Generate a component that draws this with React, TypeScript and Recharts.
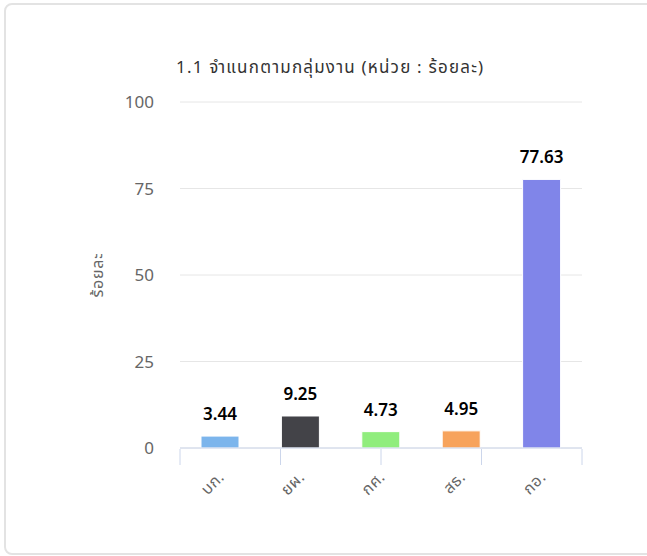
import { BarChart, Bar, XAxis, YAxis, CartesianGrid, Cell, LabelList } from "recharts";

// กลุ่มงาน
const categories = ["บก.", "ยผ.", "กศ.", "สธ.", "กอ."];
const percents = [3.44, 9.25, 4.73, 4.95, 77.63];
const barColors = ["#7cb5ec", "#434348", "#90ed7d", "#f7a35c", "#8085e9"];
const yTicks = [0, 25, 50, 75, 100];
const bandEdges = [0, 1, 2, 3, 4, 5];

const FONT = "'Noto Sans', 'Noto Sans Thai', 'Open Sans', sans-serif";

const data = categories.map((name, i) => ({ name, value: percents[i] }));

function CategoryTick(props: any) {
  const { x, y, payload } = props;
  const tx = x + 5;
  const ty = y + 22;
  return (
    <text
      x={tx}
      y={ty}
      transform={`rotate(-45, ${tx}, ${ty})`}
      textAnchor="end"
      fill="#666666"
      fontSize={16}
      letterSpacing={0.5}
      fontFamily={FONT}
    >
      {payload.value}
    </text>
  );
}

// เส้นแบ่งช่วงหมวดหมู่ ไม่มีข้อความ
function EmptyTick() {
  return <g />;
}

function YTitle(props: any) {
  const { viewBox } = props;
  const cx = 97;
  const cy = viewBox.y + viewBox.height / 2;
  return (
    <text
      x={cx}
      y={cy}
      transform={`rotate(-90, ${cx}, ${cy})`}
      textAnchor="middle"
      dominantBaseline="central"
      fill="#666666"
      fontSize={16}
      letterSpacing={0.8}
      fontFamily={FONT}
    >
      ร้อยละ
    </text>
  );
}

export default function App() {
  return (
    <div style={{ position: "absolute", left: 0, top: 0, width: 647, height: 556, overflow: "hidden", background: "#fff" }}>
      <div
        style={{
          position: "absolute",
          left: 4,
          top: 3,
          width: 680,
          height: 552,
          boxSizing: "border-box",
          border: "2px solid #e3e3e3",
          borderRadius: 8,
        }}
      />
      <div
        style={{
          position: "absolute",
          left: 176,
          top: 55,
          fontSize: 17,
          letterSpacing: 1.2,
          color: "#333333",
          fontFamily: FONT,
          whiteSpace: "nowrap",
          lineHeight: "24px",
        }}
      >
        1.1 จำแนกตามกลุ่มงาน (หน่วย : ร้อยละ)
      </div>
      <div style={{ position: "absolute", left: 0, top: 0 }}>
        <BarChart
          width={647}
          height={556}
          data={data}
          margin={{ top: 102, right: 65, bottom: 106, left: 0 }}
          barSize={38}
        >
          <CartesianGrid horizontal vertical={false} stroke="#e6e6e6" />
          <XAxis
            dataKey="name"
            height={1}
            axisLine={{ stroke: "#ccd6eb" }}
            tickLine={false}
            tick={<CategoryTick />}
            interval={0}
          />
          <XAxis
            xAxisId="edges"
            type="number"
            domain={[0, 5]}
            ticks={bandEdges}
            interval={0}
            height={1}
            axisLine={false}
            tick={<EmptyTick />}
            tickSize={16}
            tickLine={{ stroke: "#ccd6eb", strokeWidth: 1 }}
          />
          <YAxis
            width={180}
            domain={[0, 100]}
            ticks={yTicks}
            axisLine={false}
            tickLine={false}
            tickSize={0}
            tickMargin={26}
            tick={{ fill: "#666666", fontSize: 17, fontFamily: FONT }}
            label={<YTitle />}
          />
          <Bar dataKey="value" stroke="#ffffff" strokeWidth={1} isAnimationActive={false}>
            {data.map((d, i) => (
              <Cell key={d.name} fill={barColors[i]} />
            ))}
            <LabelList
              dataKey="value"
              position="top"
              offset={16}
              fill="#000000"
              fontSize={17}
              fontWeight={600}
              fontFamily={FONT}
            />
          </Bar>
        </BarChart>
      </div>
    </div>
  );
}
